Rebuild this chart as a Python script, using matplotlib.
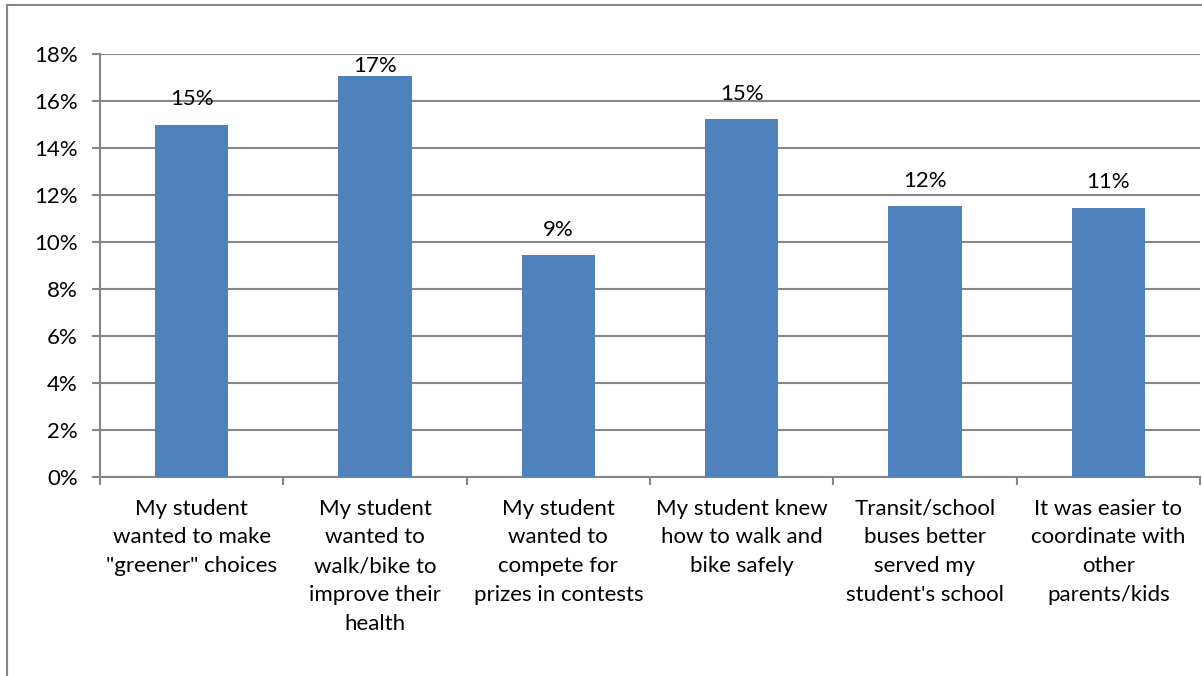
import numpy as np
import matplotlib.pyplot as plt
from matplotlib.lines import Line2D
from matplotlib.ticker import MultipleLocator, FuncFormatter

categories = ['My student\nwanted to make\n"greener" choices',
              'My student\nwanted to\nwalk/bike to\nimprove their\nhealth',
              'My student\nwanted to\ncompete for\nprizes in contests',
              'My student knew\nhow to walk and\nbike safely',
              'Transit/school\nbuses better\nserved my\nstudent\'s school',
              'It was easier to\ncoordinate with\nother\nparents/kids']
values = [15.0, 17.05, 9.43, 15.23, 11.52, 11.46]
labels = ['15%', '17%', '9%', '15%', '12%', '11%']

plt.rcParams['font.family'] = ['Lato', 'DejaVu Sans']
grey = '#868686'
fs = 16

fig = plt.figure(figsize=(12.02, 6.76), dpi=100)
ax = fig.add_axes([100/1202, 1-477/676, 1100/1202, 423/676])

x = np.arange(len(values))
ymax = 18
ax.bar(x, np.array(values)/100, width=0.4, color='#4F81BD', zorder=3)
for xi, v, lb in zip(x, values, labels):
    # label sits above the bar, but is pushed down if it would leave the plot area
    off = 11 if v < ymax - 1.5 else 0
    ax.annotate(lb, (xi, v/100), xytext=(0, off), textcoords='offset points',
                ha='center', va='bottom', fontsize=fs, zorder=4)

ax.set_xlim(-0.5, len(values)-0.5)
ax.set_ylim(0, ymax/100)
ax.yaxis.set_major_locator(MultipleLocator(0.02))
ax.yaxis.set_major_formatter(FuncFormatter(lambda v, p: '%d%%' % round(v*100)))
ax.grid(axis='y', color=grey, linewidth=1.5, zorder=0)
ax.set_xticks(x)
ax.set_xticklabels(categories, fontsize=fs, linespacing=1.56, va='top')
ax.set_xticks(np.arange(len(values)+1)-0.5, minor=True)
ax.tick_params(axis='x', which='major', length=0, pad=15.5)
ax.tick_params(axis='x', which='minor', length=6, width=1.5, color=grey, direction='out')
ax.tick_params(axis='y', length=6, width=1.5, color=grey, labelsize=fs, pad=10)
for s in ['top', 'right']:
    ax.spines[s].set_visible(False)
for s in ['left', 'bottom']:
    ax.spines[s].set_color(grey)
    ax.spines[s].set_linewidth(1.5)

# outer chart border
fig.add_artist(Line2D([7/1202, 1], [1-5/676, 1-5/676], color=grey, lw=1.5))
fig.add_artist(Line2D([7/1202, 7/1202], [0, 1-5/676], color=grey, lw=1.5))

plt.savefig('out.png', dpi=100)
